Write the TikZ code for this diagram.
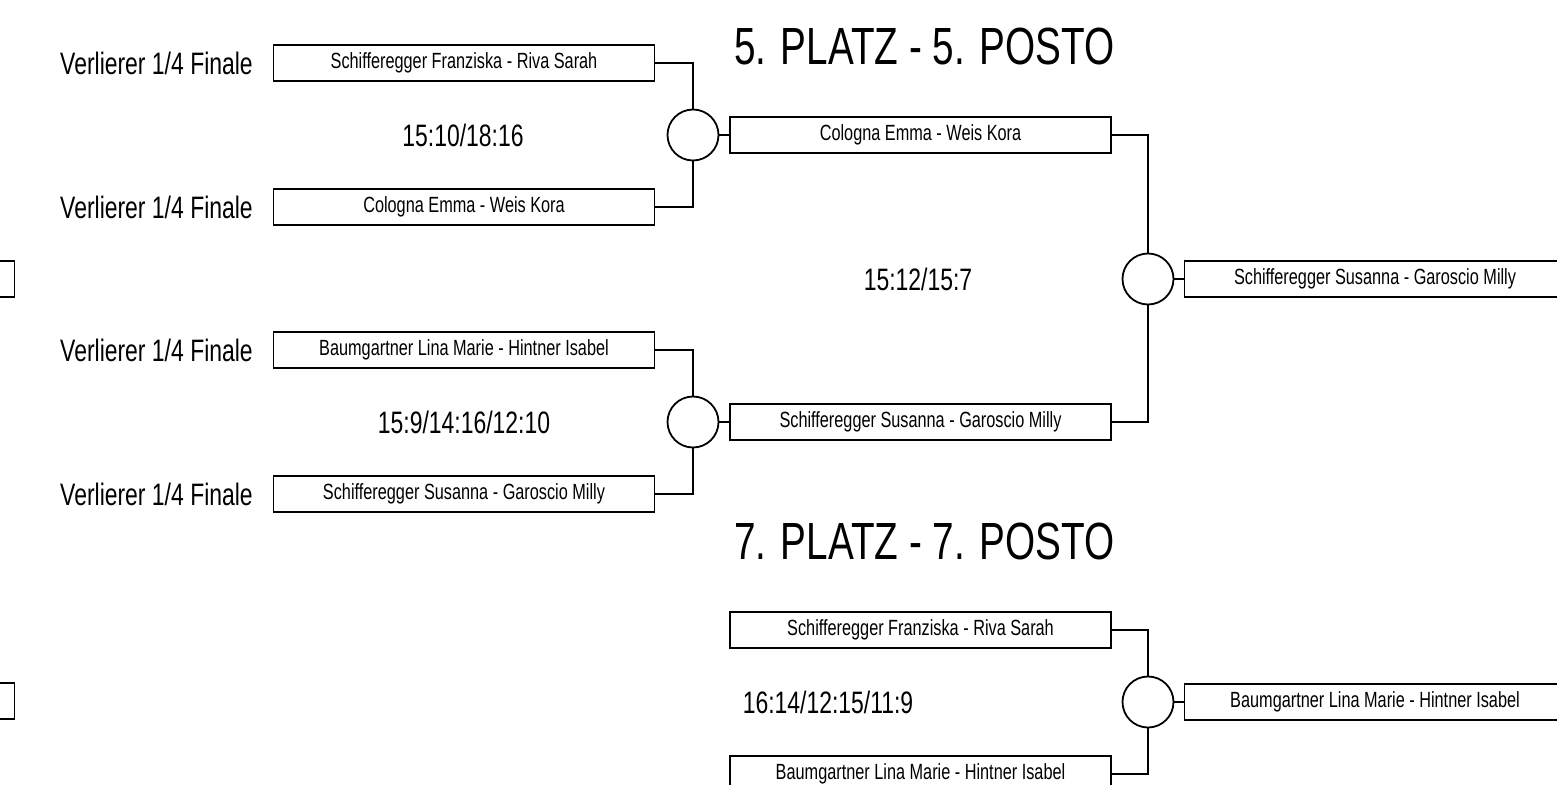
\documentclass[tikz,border=0pt]{standalone}
\usepackage{fontspec}
\setmainfont{Liberation Sans}[FakeStretch = 0.74]
\usetikzlibrary{positioning}

\begin{document}
\begin{tikzpicture}[x = 1pt, y = -1pt, line width = 1.8pt,
	pair/.style = {draw, minimum width = 381pt, minimum height = 36pt, inner sep = 0pt, font = \fontsize{22}{26}\selectfont},
	duel/.style = {draw, circle, minimum size = 51pt, inner sep = 0pt},
	score/.style = {font = \fontsize{31}{36}\selectfont},
	loser/.style = {font = \fontsize{31}{36}\selectfont, anchor = east},
	heading/.style = {font = \fontsize{52.3}{60}\selectfont, anchor = base west}]
	\clip (0, 0) rectangle (1557, 784);
	\node [heading] (head5) at (730, 65) {5. PLATZ - 5. POSTO};
	\node [heading] (head7) at (730, 559) {7. PLATZ - 7. POSTO};
	\node [pair] (prevA) at (-176, 279) {};
	\node [pair] (prevB) at (-176, 701) {};
	\node [loser] (lab1) at (257, 63) {Verlierer 1/4 Finale};
	\node [loser] (lab2) at (257, 207) {Verlierer 1/4 Finale};
	\node [loser] (lab3) at (257, 350) {Verlierer 1/4 Finale};
	\node [loser] (lab4) at (257, 494) {Verlierer 1/4 Finale};
	\node [pair] (qa) at (464, 63) {Schifferegger Franziska - Riva Sarah};
	\node [pair] (qb) at (464, 207) {Cologna Emma - Weis Kora};
	\node [pair] (qc) at (464, 350) {Baumgartner Lina Marie - Hintner Isabel};
	\node [pair] (qd) at (464, 494) {Schifferegger Susanna - Garoscio Milly};
	\node [duel] (m1) at (693, 135) {};
	\node [duel] (m2) at (693, 422) {};
	\node [score] (s1) at (463, 135) {15:10/18:16};
	\node [score] (s2) at (464, 422) {15:9/14:16/12:10};
	\node [pair] (sa) at (920.5, 135) {Cologna Emma - Weis Kora};
	\node [pair] (sb) at (920.5, 422) {Schifferegger Susanna - Garoscio Milly};
	\node [duel] (m3) at (1148, 279) {};
	\node [score] (s3) at (918, 279) {15:12/15:7};
	\node [pair] (win5) at (1375, 279) {Schifferegger Susanna - Garoscio Milly};
	\node [pair] (ta) at (920.5, 630) {Schifferegger Franziska - Riva Sarah};
	\node [pair] (tb) at (920.5, 774) {Baumgartner Lina Marie - Hintner Isabel};
	\node [duel] (m4) at (1148, 702) {};
	\node [score] (s4) at (828, 702) {16:14/12:15/11:9};
	\node [pair] (win7) at (1375, 702) {Baumgartner Lina Marie - Hintner Isabel};
	\draw (qa.east) -| (m1.north);
	\draw (qb.east) -| (m1.south);
	\draw (m1.east) -- (sa.west);
	\draw (qc.east) -| (m2.north);
	\draw (qd.east) -| (m2.south);
	\draw (m2.east) -- (sb.west);
	\draw (sa.east) -| (m3.north);
	\draw (sb.east) -| (m3.south);
	\draw (m3.east) -- (win5.west);
	\draw (ta.east) -| (m4.north);
	\draw (tb.east) -| (m4.south);
	\draw (m4.east) -- (win7.west);
\end{tikzpicture}
\end{document}
